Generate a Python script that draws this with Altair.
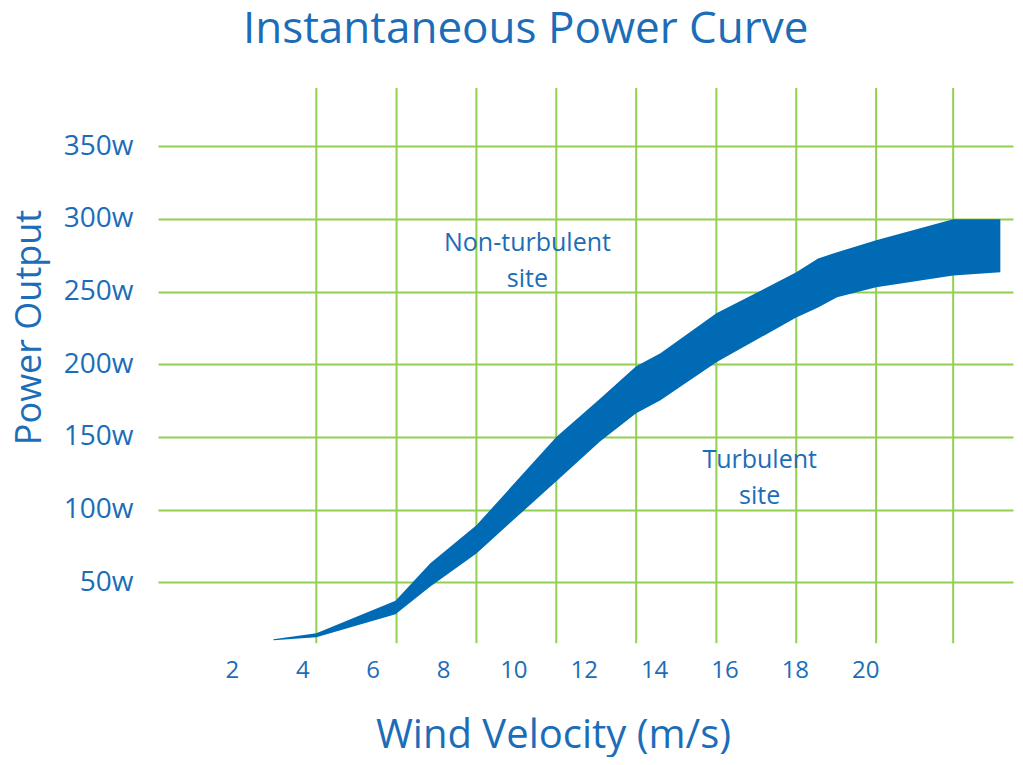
import altair as alt
import pandas as pd

# ---- data ----
chart_title = ["Instantaneous Power Curve"]
title_x = [10.35]
title_y = [420.9]

x_title = "Wind Velocity (m/s)"
y_title = "Power Output"

wind_speed = [3.18, 4.40, 6.65, 7.64, 8.95, 11.22, 12.47, 13.49, 14.18,
              15.77, 18.04, 18.66, 19.20, 20.31, 22.50, 23.84]
power_upper = [10.8, 14.9, 37.3, 63.1, 89.2, 150.0, 176.5, 198.6, 207.5,
               235.0, 263.2, 272.8, 277.0, 285.2, 299.7, 299.7]
power_lower = [10.2, 12.2, 28.0, 47.2, 69.9, 119.5, 147.0, 166.2, 175.2,
               201.3, 232.2, 239.1, 246.0, 252.9, 261.1, 263.2]

x_ticks = [2, 4, 6, 8, 10, 12, 14, 16, 18, 20]
y_ticks = [50, 100, 150, 200, 250, 300, 350]
grid_x = [4.40, 6.68, 8.95, 11.22, 13.49, 15.77, 18.04, 20.31, 22.50]

ann_text = ["Non-turbulent", "site", "Turbulent", "site"]
ann_x = [10.4, 10.4, 17.0, 17.0]
ann_y = [277.9, 252.9, 128.4, 103.6]

# ---- styling ----
BLUE_TEXT = "#1C6DB8"
BAND = "#006AB4"
GREEN = "#92D050"
FONT = "Open Sans"

X_DOMAIN = [-0.1, 24.2]
Y_DOMAIN = [0, 390]

band_df = pd.DataFrame({"v": wind_speed, "hi": power_upper, "lo": power_lower})
grid_df = pd.DataFrame({"gx": grid_x, "g0": [8] * len(grid_x), "g1": [390] * len(grid_x)})
ann_df = pd.DataFrame({"t": ann_text, "ax": ann_x, "ay": ann_y})
title_df = pd.DataFrame({"t": chart_title, "ax": title_x, "ay": title_y})

x_axis = alt.Axis(
    values=x_ticks, grid=False, domain=False, ticks=False,
    labelFont=FONT, labelFontSize=24, labelColor=BLUE_TEXT,
    labelBaseline="top", labelPadding=3,
    title=x_title, titleFont=FONT, titleFontSize=40, titleFontWeight="normal",
    titleColor=BLUE_TEXT, titleX=395, titleY=92, titleBaseline="alphabetic",
    titleAlign="center",
)
y_axis = alt.Axis(
    values=y_ticks, grid=True, gridColor=GREEN, gridWidth=2,
    domain=False, ticks=False,
    labelExpr="datum.value + 'w'",
    labelFont=FONT, labelFontSize=28, labelColor=BLUE_TEXT, labelPadding=25,
    title=y_title, titleFont=FONT, titleFontSize=36, titleFontWeight="normal",
    titleColor=BLUE_TEXT, titleAngle=-90, titleX=-118, titleY=239,
    titleBaseline="alphabetic", titleAlign="center",
)
x_scale = alt.Scale(domain=X_DOMAIN, nice=False, zero=False)
y_scale = alt.Scale(domain=Y_DOMAIN, nice=False, zero=False)

grid = alt.Chart(grid_df).mark_rule(color=GREEN, strokeWidth=2).encode(
    x=alt.X("gx:Q", scale=x_scale, axis=x_axis),
    y=alt.Y("g0:Q", scale=y_scale, axis=y_axis),
    y2="g1:Q",
)

band = alt.Chart(band_df).mark_area(color=BAND, opacity=1, interpolate="linear").encode(
    x=alt.X("v:Q", scale=x_scale, axis=x_axis),
    y=alt.Y("hi:Q", scale=y_scale, axis=y_axis),
    y2="lo:Q",
)

labels = alt.Chart(ann_df).mark_text(
    font=FONT, fontSize=25, color=BLUE_TEXT, align="center", baseline="alphabetic"
).encode(
    x=alt.X("ax:Q", scale=x_scale, axis=x_axis),
    y=alt.Y("ay:Q", scale=y_scale, axis=y_axis),
    text="t:N",
)

title = alt.Chart(title_df).mark_text(
    font=FONT, fontSize=44, color=BLUE_TEXT, align="center", baseline="alphabetic"
).encode(
    x=alt.X("ax:Q", scale=x_scale, axis=x_axis),
    y=alt.Y("ay:Q", scale=y_scale, axis=y_axis),
    text="t:N",
)

chart = alt.layer(grid, band, labels, title).properties(
    width=855,
    height=567,
    padding={"left": 150, "top": 80, "right": 2, "bottom": 102},
    autosize=alt.AutoSizeParams(type="none"),
    background="white",
).configure_view(stroke="transparent", strokeWidth=0)

chart.save("out.html", embed_options={"renderer": "svg", "actions": False})
